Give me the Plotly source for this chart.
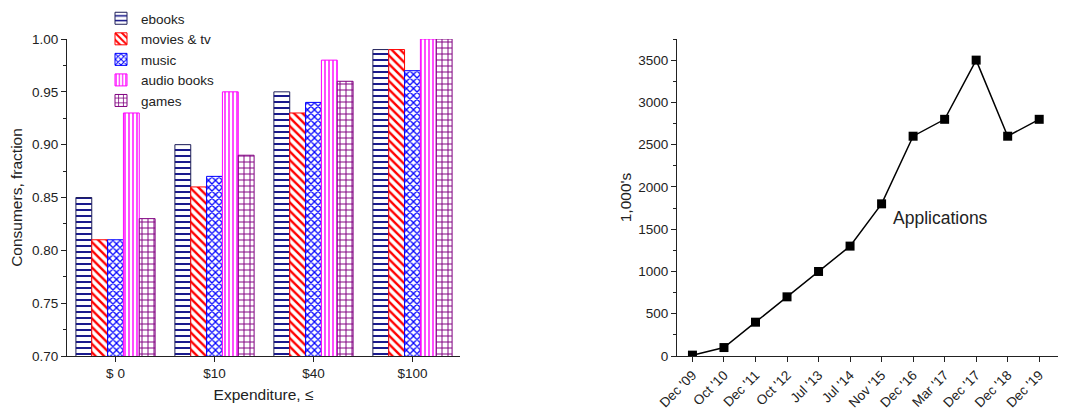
import plotly.graph_objects as go

# ---- Left chart data ----
expenditure = ["$ 0", "$10", "$40", "$100"]
ebooks = [0.85, 0.90, 0.95, 0.99]
movies_tv = [0.81, 0.86, 0.93, 0.99]
music = [0.81, 0.87, 0.94, 0.97]
audio_books = [0.93, 0.95, 0.98, 1.00]
games = [0.83, 0.89, 0.96, 1.00]

# ---- Right chart data ----
dates = ["Dec '09", "Oct '10", "Dec '11", "Oct '12", "Jul '13", "Jul '14",
         "Nov '15", "Dec '16", "Mar '17", "Dec '17", "Dec '18", "Dec '19"]
applications = [10, 100, 400, 700, 1000, 1300, 1800, 2600, 2800, 3500, 2600, 2800]

FONT = "Arial, Liberation Sans, sans-serif"
TXT = "#222222"
W, H = 1058, 406  # page body has an 8px margin

series = [
    ("ebooks", ebooks, "#000080", "-", 6, 0.3, "#20205a"),
    ("movies & tv", movies_tv, "#ff0000", "\\", 6, 0.4, "#ff0000"),
    ("music", music, "#0000ff", "x", 5, 0.45, "#0000ff"),
    ("audio books", audio_books, "#ff00ff", "|", 4, 0.35, "#ff00ff"),
    ("games", games, "#800080", "+", 6, 0.3, "#800080"),
]

fig = go.Figure()
for name, vals, col, shape, size, sol, lc in series:
    fig.add_trace(go.Bar(
        x=expenditure, y=vals, name=name, xaxis="x", yaxis="y",
        marker=dict(color="white",
                    line=dict(color=lc, width=1),
                    pattern=dict(shape=shape, fgcolor=col, bgcolor="white",
                                 size=size, solidity=sol, fillmode="replace")),
    ))

fig.add_trace(go.Scatter(
    x=dates, y=applications, mode="lines+markers", xaxis="x2", yaxis="y2",
    line=dict(color="black", width=1.5),
    marker=dict(symbol="square", size=9, color="black"),
    showlegend=False,
))

axis_common = dict(showline=True, linecolor="#222", linewidth=1, ticks="outside",
                   ticklen=5, tickcolor="#222", showgrid=False, zeroline=False,
                   automargin=False,
                   tickfont=dict(family=FONT, size=13.5, color=TXT))

TFONT = dict(size=15.5, family=FONT, color=TXT)

fig.update_layout(
    width=W, height=H,
    margin=dict(l=0, r=0, t=31, b=58, autoexpand=False),
    paper_bgcolor="white", plot_bgcolor="white",
    barmode="group", bargap=0.2, bargroupgap=0,
    font=dict(family=FONT, color=TXT),
    xaxis=dict(domain=[59/W, 452/W], range=[-0.49, 3.48],
               title=dict(text="Expenditure, ≤", font=TFONT, standoff=8),
               **axis_common),
    yaxis=dict(range=[0.70, 1.00], dtick=0.05, tickformat=".2f",
               minor=dict(ticks="outside", ticklen=3, dtick=0.025, tickcolor="#222"),
               title=dict(text="Consumers, fraction", font=TFONT, standoff=5),
               anchor="x", **axis_common),
    xaxis2=dict(domain=[669/W, 1.0], range=[-0.49, 11.85], anchor="y2",
                tickangle=-45, **axis_common),
    yaxis2=dict(range=[0, 3750], dtick=500, anchor="x2",
                minor=dict(ticks="outside", ticklen=3, dtick=250, tickcolor="#222"),
                title=dict(text="1,000's", font=TFONT, standoff=2),
                **axis_common),
    legend=dict(x=93/W, y=1.1136, xanchor="left", yanchor="top",
                bgcolor="rgba(0,0,0,0)", font=dict(family=FONT, size=13.5, color=TXT),
                tracegroupgap=0),
    annotations=[dict(text="Applications", xref="x2", yref="y2", x=6.3, y=1630,
                      xanchor="left", yanchor="middle", showarrow=False,
                      font=dict(family=FONT, size=17.5, color=TXT))],
)

fig.write_html("out.html")
